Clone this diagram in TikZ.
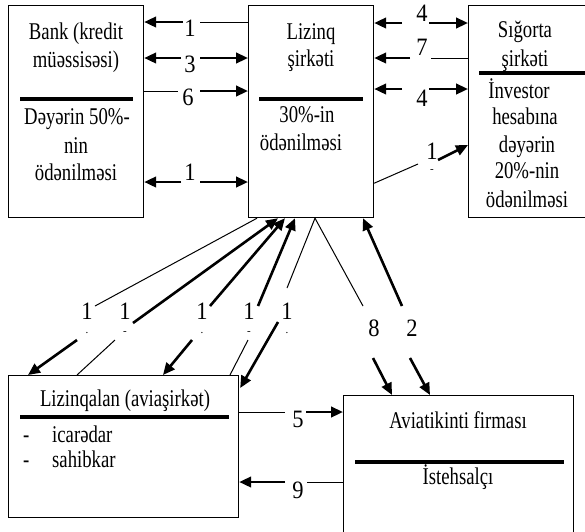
\documentclass[tikz,border=0pt]{standalone}
\usepackage{fontspec}
\setmainfont{Liberation Serif}
\newfontfamily\boxfont{Liberation Serif}[FakeStretch=0.78]
\newfontfamily\labfont{Liberation Serif}[FakeStretch=0.9]
\usetikzlibrary{arrows.meta,calc}
\tikzset{
  box/.style={draw, line width=1.2pt, rectangle, inner sep=0pt, anchor=north west},
  rulebar/.style={line width=4pt},
  txt/.style={font=\boxfont\fontsize{24}{24}\selectfont, inner sep=0pt, anchor=base},
  txtl/.style={txt, anchor=base west},
  lab/.style={font=\labfont\fontsize{25}{25}\selectfont, inner sep=0pt},
  tinymk/.style={font=\fontsize{11}{11}\selectfont, inner sep=0pt},
  thinln/.style={line width=1pt},
  thk/.style={line width=2.6pt, -{Triangle[length=12pt,width=10.5pt]}},
}
\begin{document}
\begin{tikzpicture}[x=1pt,y=-1pt]
\useasboundingbox (0,0) rectangle (585,531);
\clip (0,0) rectangle (585,531);
\fill[white] (0,0) rectangle (585,531);

% boxes
\node[box, minimum width=135pt, minimum height=212pt] (bank) at (8,5) {};
\node[box, minimum width=125pt, minimum height=212pt] (liz) at (248,5) {};
\node[box, minimum width=122pt, minimum height=212pt] (sig) at (468,5) {};
\node[box, minimum width=230pt, minimum height=142pt] (lzq) at (8,375) {};
\node[box, minimum width=230pt, minimum height=150pt] (avi) at (343,395) {};

% rules
\draw[rulebar] ($(bank.north west)+(12,94)$) -- ($(bank.north east)+(-11,94)$);
\draw[rulebar] ($(liz.north west)+(11,94)$) -- ($(liz.north east)+(-11,94)$);
\draw[rulebar] ($(sig.north west)+(11,68)$) -- ($(sig.north east)+(-4,68)$);
\draw[rulebar] ($(lzq.north west)+(12,42)$) -- ($(lzq.north east)+(-10,42)$);
\draw[rulebar] ($(avi.north west)+(12,67)$) -- ($(avi.north east)+(-10,67)$);

% texts: Bank
\node[txt] (b1) at (76,39) {Bank (kredit};
\node[txt] (b2) at (76,67) {müəssisəsi)};
\node[txt] (b3) at (77,124) {Dəyərin 50\%-};
\node[txt] (b4) at (76,153) {nin};
\node[txt] (b5) at (76,180) {ödənilməsi};
% Lizinq
\node[txt] (z1) at (311,39) {Lizinq};
\node[txt] (z2) at (311,66) {şirkəti};
\node[txt] (z3) at (307,122) {30\%-in};
\node[txt] (z4) at (301,150) {ödənilməsi};
% Sigorta
\node[txt] (s1) at (525,37) {Sığorta};
\node[txt] (s2) at (525,66) {şirkəti};
\node[txt] (s3) at (519,98) {İnvestor};
\node[txt] (s4) at (525,124) {hesabına};
\node[txt] (s5) at (527,152) {dəyərin};
\node[txt] (s6) at (527,178) {20\%-nin};
\node[txt] (s7) at (527,207) {ödənilməsi};
% Lizinqalan
\node[txt] (q1) at (125,406) {Lizinqalan (aviaşirkət)};
\node[txtl] (q2) at (23,442) {-};
\node[txtl] (q3) at (52,442) {icarədar};
\node[txtl] (q4) at (23,467) {-};
\node[txtl] (q5) at (52,467) {sahibkar};
% Aviatikinti
\node[txt] (a1) at (458,428) {Aviatikinti firması};
\node[txt] (a2) at (458,484) {İstehsalçı};

% ---- Bank <-> Lizinq
\node[lab] (h1) at (190,28) {1};
\coordinate (h1r) at (200,22); \coordinate (h1l) at (183,22);
\draw[thinln] (liz.west |- h1r) -- (h1r);
\draw[thk] (h1l) -- (bank.east |- h1l);

\node[lab] (h2) at (190,64) {3};
\coordinate (h2r) at (200,58); \coordinate (h2l) at (181,58);
\draw[thk] (h2r) -- (liz.west |- h2r);
\draw[thk] (h2l) -- (bank.east |- h2l);

\node[lab] (h3) at (188,97) {6};
\coordinate (h3r) at (200,91); \coordinate (h3l) at (178,91);
\draw[thinln] (bank.east |- h3l) -- (h3l);
\draw[thk] (h3r) -- (liz.west |- h3r);

\node[lab] (h4) at (190,172) {1};
\coordinate (h4r) at (200,182); \coordinate (h4l) at (181,182);
\draw[thk] (h4r) -- (liz.west |- h4r);
\draw[thk] (h4l) -- (bank.east |- h4l);

% ---- Lizinq <-> Sigorta
\node[lab] (t1) at (422,13) {4};
\coordinate (t1l) at (402,23); \coordinate (t1r) at (429,23);
\draw[thk] (t1l) -- (liz.east |- t1l);
\draw[thk] (t1r) -- (sig.west |- t1r);

\node[lab] (t2) at (422,47) {7};
\coordinate (t2l) at (410,58); \coordinate (t2r) at (431,58);
\draw[thinln] (sig.west |- t2r) -- (t2r);
\draw[thk] (t2l) -- (liz.east |- t2l);

\node[lab] (t3) at (422,98) {4};
\coordinate (t3l) at (402,89); \coordinate (t3r) at (429,89);
\draw[thk] (t3l) -- (liz.east |- t3l);
\draw[thk] (t3r) -- (sig.west |- t3r);

\node[lab] (t4) at (432,151) {1};
\node[tinymk] (t4m) at (432,171) {-};
\coordinate (t4a) at (418,164); \coordinate (t4b) at (438,160);
\draw[thinln] ($(liz.south east)+(0,-35)$) -- (t4a);
\draw[thk] (t4b) -- ($(sig.north west)+(0,140)$);

% ---- Lizinq <-> Lizinqalan (diagonals)
\node[lab] (d1) at (87,311) {1};   \node[tinymk] (d1m) at (87,333) {.};
\node[lab] (d2) at (125,311) {1};  \node[tinymk] (d2m) at (125,333) {-};
\node[lab] (d3) at (202,311) {1};  \node[tinymk] (d3m) at (202,333) {.};
\node[lab] (d4) at (249,311) {1};  \node[tinymk] (d4m) at (249,333) {-};
\node[lab] (d5) at (287,311) {1};  \node[tinymk] (d5m) at (287,333) {.};

\coordinate (join) at ($(liz.south west)+(67,0)$);

\coordinate (d1u) at (95,306); \coordinate (d1l) at (77,340);
\draw[thinln] (d1u) -- ($(liz.south west)+(9,0)$);
\draw[thk] (d1l) -- ($(lzq.north west)+(20,0)$);

\coordinate (d2u) at (133,323); \coordinate (d2l) at (115,340);
\draw[thk] (d2u) -- ($(liz.south west)+(30,0)$);
\draw[thinln] (d2l) -- ($(lzq.north west)+(69,0)$);

\coordinate (d3u) at (210,306); \coordinate (d3l) at (192,340);
\draw[thk] (d3u) -- ($(liz.south west)+(37,0)$);
\draw[thk] (d3l) -- ($(lzq.north west)+(155,0)$);

\coordinate (d4u) at (258,306); \coordinate (d4l) at (248,340);
\draw[thk] (d4u) -- ($(liz.south west)+(47,0)$);
\draw[thinln] (d4l) -- ($(lzq.north west)+(222,0)$);

\coordinate (d5u) at (287,288); \coordinate (d5l) at (278,322);
\draw[thinln] (d5u) -- (join);
\draw[thk] (d5l) -- ($(lzq.north east)+(1,13)$);

% ---- Lizinq <-> Aviatikinti
\node[lab] (e8) at (374,328) {8};
\node[lab] (e2) at (412,328) {2};
\coordinate (e8u) at (363,306); \coordinate (e8l) at (373,358);
\draw[thinln] (join) -- (e8u);
\draw[thk] (e8l) -- ($(avi.north west)+(49,0)$);
\coordinate (e2u) at (402,306); \coordinate (e2l) at (410,358);
\draw[thk] (e2u) -- ($(liz.south west)+(115,0)$);
\draw[thk] (e2l) -- ($(avi.north west)+(87,0)$);

% ---- Lizinqalan <-> Aviatikinti
\node[lab] (f5) at (298,419) {5};
\coordinate (f5l) at (285,412); \coordinate (f5r) at (306,412);
\draw[thinln] (lzq.east |- f5l) -- (f5l);
\draw[thk] (f5r) -- (avi.west |- f5r);

\node[lab] (f9) at (298,490) {9};
\coordinate (f9l) at (285,482); \coordinate (f9r) at (307,482);
\draw[thinln] (avi.west |- f9r) -- (f9r);
\draw[thk] (f9l) -- (lzq.east |- f9l);
\end{tikzpicture}
\end{document}
